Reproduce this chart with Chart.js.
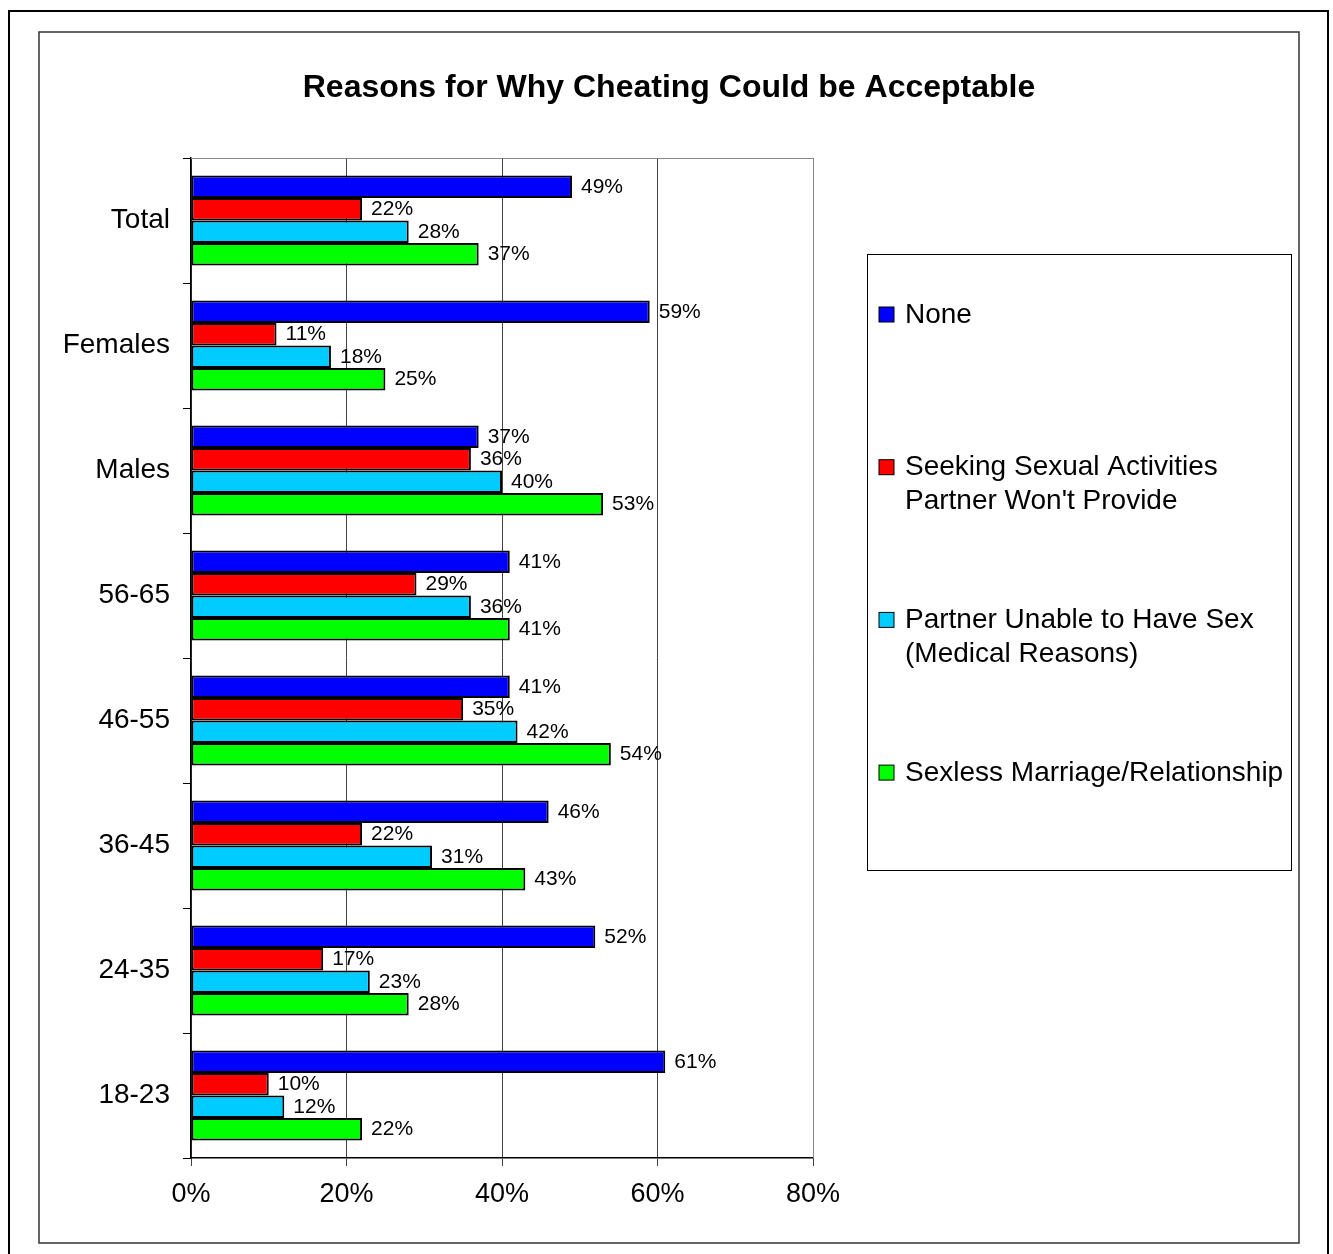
<!DOCTYPE html>
<html>
<head>
<meta charset="utf-8">
<script src="https://cdn.jsdelivr.net/npm/chart.js@4"></script>
<style>
	body { margin: 0; background: #fff; }
	#wrap { width: 1333px; height: 1254px; }
</style>
</head>
<body>
<div id="wrap"><canvas id="myChart" width="1333" height="1254"></canvas></div>
<script>
// data
var categories = ["Total", "Females", "Males", "56-65", "46-55", "36-45", "24-35", "18-23"];
var none = [49, 59, 37, 41, 41, 46, 52, 61];
var seeking = [22, 11, 36, 29, 35, 22, 17, 10];
var unable = [28, 18, 40, 36, 42, 31, 23, 12];
var sexless = [37, 25, 53, 41, 54, 43, 28, 22];
var seriesNames = [
	["None"],
	["Seeking Sexual Activities", "Partner Won't Provide"],
	["Partner Unable to Have Sex", "(Medical Reasons)"],
	["Sexless Marriage/Relationship"],
];
var seriesColors = ["#0000FF", "#FF0000", "#00CCFF", "#00FF00"];
var xTicks = [0, 20, 40, 60, 80];
var chartTitle = "Reasons for Why Cheating Could be Acceptable";

var FONT = "'Liberation Sans', Arial, sans-serif";

var framePlugin = {
	id: "frames",
	beforeDraw: function (chart) {
		var ctx = chart.ctx;
		ctx.save();
		ctx.fillStyle = "#fff";
		ctx.fillRect(0, 0, chart.width, chart.height);
		// outer frame
		ctx.strokeStyle = "#000";
		ctx.lineWidth = 2;
		ctx.strokeRect(9, 11, 1319, 1260);
		// inner chart frame
		ctx.lineWidth = 1.5;
		ctx.strokeStyle = "#333";
		ctx.strokeRect(39, 32, 1260, 1211);
		// title, centred on the whole chart
		ctx.fillStyle = "#000";
		ctx.font = "bold 32px " + FONT;
		ctx.textAlign = "center";
		ctx.textBaseline = "middle";
		ctx.fillText(chartTitle, 669, 88);
		ctx.restore();
	},
	afterDraw: function (chart) {
		var ctx = chart.ctx;
		var a = chart.chartArea;
		ctx.save();
		// plot area top and right borders
		ctx.strokeStyle = "#888";
		ctx.lineWidth = 1;
		ctx.beginPath();
		ctx.moveTo(a.left, a.top + 0.5);
		ctx.lineTo(a.right + 0.5, a.top + 0.5);
		ctx.lineTo(a.right + 0.5, a.bottom);
		ctx.stroke();

		// legend box
		ctx.strokeStyle = "#000";
		ctx.lineWidth = 1;
		ctx.strokeRect(867.5, 254.5, 424, 616);
		ctx.font = "28px " + FONT;
		ctx.textBaseline = "middle";
		for (var i = 0; i < seriesNames.length; i++) {
			var y = 315 + i * 152.7;
			ctx.fillStyle = seriesColors[i];
			ctx.fillRect(879, y - 8, 15, 15);
			ctx.strokeStyle = "#000";
			ctx.strokeRect(879, y - 8, 15, 15);
			ctx.fillStyle = "#000";
			for (var j = 0; j < seriesNames[i].length; j++) {
				ctx.fillText(seriesNames[i][j], 905, y + j * 34);
			}
		}
		ctx.restore();
	},
};

var valueLabels = {
	id: "valueLabels",
	afterDatasetsDraw: function (chart) {
		var ctx = chart.ctx;
		ctx.save();
		ctx.font = "21px " + FONT;
		ctx.fillStyle = "#000";
		ctx.textBaseline = "middle";
		chart.data.datasets.forEach(function (ds, i) {
			chart.getDatasetMeta(i).data.forEach(function (bar, k) {
				ctx.fillText(ds.data[k] + "%", bar.x + 9, bar.y);
			});
		});
		ctx.restore();
	},
};

var datasets = [none, seeking, unable, sexless].map(function (vals, i) {
	return {
		label: seriesNames[i].join(" "),
		data: vals,
		backgroundColor: seriesColors[i],
		borderColor: "#000",
		borderWidth: 2,
		borderSkipped: false,
		barPercentage: 1,
		categoryPercentage: 0.72,
	};
});

var ctx = document.getElementById("myChart").getContext("2d");
var myChart = new Chart(ctx, {
	type: "bar",
	data: { labels: categories, datasets: datasets },
	plugins: [framePlugin, valueLabels],
	options: {
		indexAxis: "y",
		responsive: false,
		animation: false,
		layout: { padding: { left: 40, right: 520, top: 158, bottom: 20 } },
		plugins: {
			legend: { display: false },
			tooltip: { enabled: false },
			title: { display: false },
		},
		scales: {
			x: {
				min: xTicks[0],
				max: xTicks[xTicks.length - 1],
				afterBuildTicks: function (axis) {
					axis.ticks = xTicks.map(function (v) { return { value: v }; });
				},
				afterFit: function (axis) { axis.height = 76; },
				grid: { color: "#444", lineWidth: 1, tickLength: 8 },
				border: { color: "#000", width: 1.5 },
				ticks: {
					color: "#000",
					font: { family: FONT, size: 27 },
					padding: 12,
					callback: function (v) { return v + "%"; },
				},
			},
			y: {
				afterFit: function (axis) { axis.width = 151; },
				grid: { drawOnChartArea: false, color: "#000", tickLength: 8 },
				border: { color: "#000", width: 1.5 },
				ticks: {
					color: "#000",
					font: { family: FONT, size: 28 },
					padding: 13,
				},
			},
		},
	},
});
</script>
</body>
</html>
